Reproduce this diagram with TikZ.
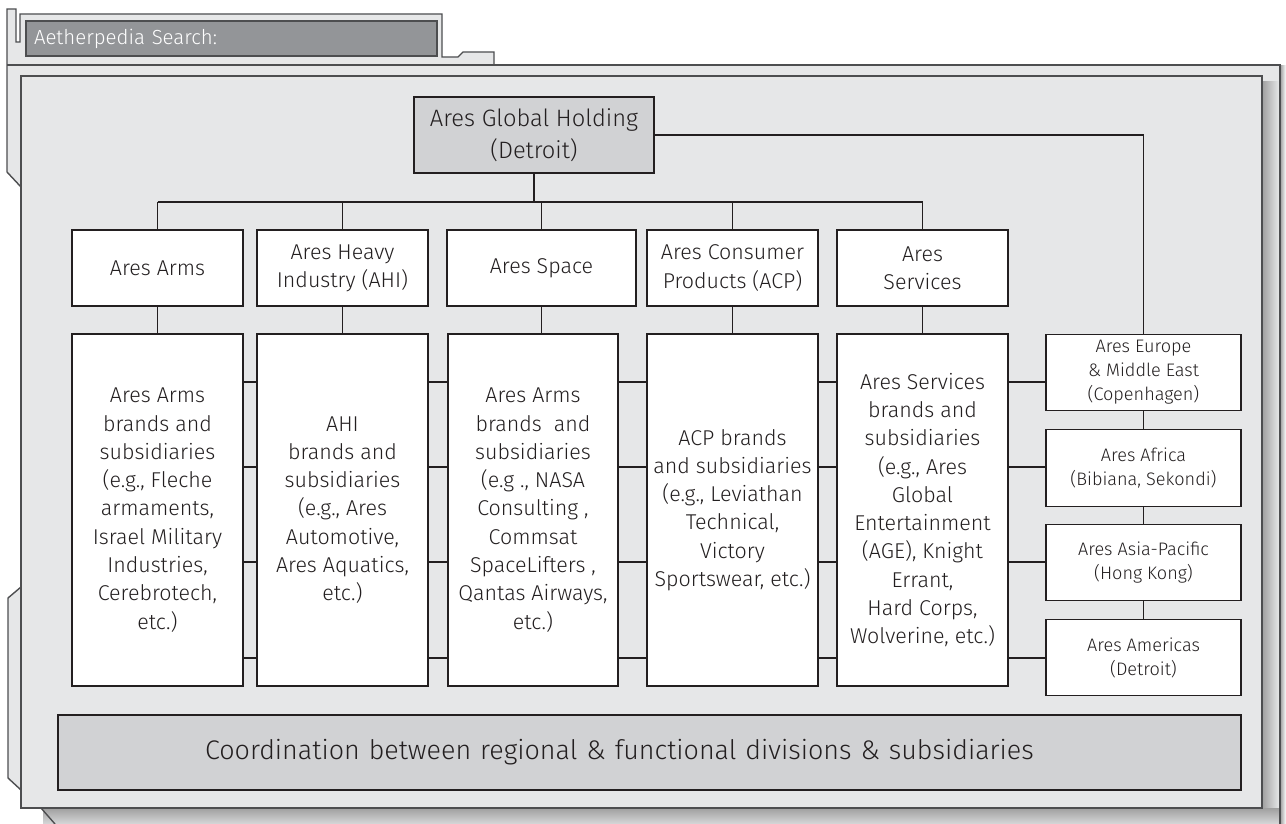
\documentclass[tikz,border=0pt]{standalone}
\usepackage{fontspec}
\setmainfont{Fira Sans}[UprightFont=* Light]
\definecolor{panel}{HTML}{E6E7E8}
\definecolor{boxgray}{HTML}{D1D2D4}
\definecolor{searchgray}{HTML}{939598}
\definecolor{frame}{HTML}{4D4E50}
\definecolor{ink}{HTML}{231F20}
\newcommand\boxfont{\fontsize{12.2}{16.1}\selectfont}
\newcommand\topfont{\fontsize{13.5}{18.5}\selectfont}
\newcommand\regionfont{\fontsize{10.3}{13.6}\selectfont}
\newcommand\barfont{\fontsize{15.3}{18}\selectfont}
\newcommand\searchfont{\fontsize{11.6}{14}\selectfont}

\begin{document}
\begin{tikzpicture}
    [x=0.02cm,y=-0.02cm,inner sep=0pt,line width=0.8pt,
     unit/.style={rectangle,draw=ink,fill=white,text=ink,align=center,
       minimum width=3.42cm,minimum height=1.52cm,font=\boxfont},
     subs/.style={unit,minimum height=7.04cm},
     region/.style={unit,minimum width=3.9cm,minimum height=1.53cm,font=\regionfont},
     hold/.style={unit,fill=boxgray}]
    % background and frame
    \fill [white] (0,0) rectangle (1286,824);
    \useasboundingbox (0,0) rectangle (1286,824);
    \fill [panel] (7,172) -- (7,9) -- (16,9) -- (16,42) -- (20,42) -- (20,14) -- (442,14)
      -- (442,57) -- (458,57) -- (463,52) -- (494,52) -- (494,65) -- (1280,65) -- (1280,824)
      -- (55,824) -- (41,808) -- (21,808) -- (21,187) -- cycle;
    \shade [left color=gray!75,right color=panel] (1262,82) rectangle (1279,812);
    \shade [top color=gray!75,bottom color=panel!85!gray] (43,808) rectangle (1279,824);
    \shade [left color=gray!65,right color=white] (1281,66) rectangle (1286,824);
    \draw [frame] (7,172) -- (7,9) -- (16,9) -- (16,42) -- (20,42) -- (20,14) -- (442,14)
      -- (442,57) -- (458,57) -- (463,52) -- (494,52) -- (494,65);
    \draw [frame] (7,65) -- (1280,65) -- (1280,824);
    \draw [frame] (7,172) -- (21,187);
    \draw [frame] (41,808) -- (55,824);
    \draw [frame,fill=panel] (21,587) -- (8,598) -- (8,778) -- (21,790);
    \draw [frame,fill=panel] (21,76) rectangle (1262,808);
    \node (srch) at (231.5,38.5) [rectangle,draw=frame,fill=searchgray,minimum width=8.22cm,
      minimum height=0.7cm,text width=7.9cm,align=left,text=white,font=\searchfont] {Aetherpedia Search:};

    % chart
    \node (top) at (534,135) [hold,minimum width=4.8cm,font=\topfont] {Ares Global Holding\\(Detroit)};
    \node (arm) at (157.5,268) [unit] {Ares Arms};
    \node (hvy) at (342.5,268) [unit] {Ares Heavy\\Industry (AHI)};
    \node (spc) at (541.5,268) [unit,minimum width=3.78cm] {Ares Space};
    \node (acp) at (732.5,268) [unit] {Ares Consumer\\Products (ACP)};
    \node (srv) at (922.5,268) [unit] {Ares\\Services};
    \node (armS) at (157.5,510) [subs] {Ares Arms\\brands and\\subsidiaries\\(e.g., Fleche\\armaments,\\Israel Military\\Industries,\\Cerebrotech,\\etc.)};
    \node (hvyS) at (342.5,510) [subs] {AHI\\brands and\\subsidiaries\\(e.g., Ares\\Automotive,\\Ares Aquatics,\\etc.)};
    \node (spcS) at (533,510) [subs,minimum width=3.4cm] {Ares Arms\\ brands\ \ and\\subsidiaries\\ (e.g ., NASA\\Consulting ,\\Commsat\\ SpaceLifters ,\\Qantas Airways,\\etc.)};
    \node (acpS) at (732.5,510) [subs] {ACP brands\\and subsidiaries\\(e.g., Leviathan\\Technical,\\Victory\\Sportswear, etc.)};
    \node (srvS) at (922.5,510) [subs] {Ares Services\\brands and\\subsidiaries\\(e.g., Ares\\Global\\Entertainment\\(AGE), Knight\\Errant,\\Hard Corps,\\Wolverine, etc.)};
    \node (eur) at (1143.5,372.5) [region] {Ares Europe\\\& Middle East\\(Copenhagen)};
    \node (afr) at (1143.5,468) [region] {Ares Africa\\(Bibiana, Sekondi)};
    \node (asi) at (1143.5,562.5) [region] {Ares Asia-Pacific\\(Hong Kong)};
    \node (ame) at (1143.5,657.5) [region] {Ares Americas\\(Detroit)};
    \node (coord) at (649.5,752.5) [hold,minimum width=23.66cm,minimum height=1.5cm,font=\barfont,
      text width=23.66cm,align=left]
      {\hspace*{2.94cm}Coordination between regional \& functional divisions \& subsidiaries};
    \coordinate (bus) at (0,202);
    \coordinate (l1) at (0,382);
    \coordinate (l2) at (0,467);
    \coordinate (l3) at (0,562);
    \coordinate (l4) at (0,658);

    \draw [ink] (top.south) to (top.south |- bus);
    \draw [ink] (arm.north |- bus) to (srv.north |- bus);
    \draw [ink] (arm.north |- bus) to (arm.north);
    \draw [ink] (hvy.north |- bus) to (hvy.north);
    \draw [ink] (spc.north |- bus) to (spc.north);
    \draw [ink] (acp.north |- bus) to (acp.north);
    \draw [ink] (srv.north |- bus) to (srv.north);
    \draw [ink] (top.east) -| (eur.north);
    \draw [ink] (arm.south) to (armS.north);
    \draw [ink] (hvy.south) to (hvyS.north);
    \draw [ink] (spc.south) to (spc.south |- spcS.north);
    \draw [ink] (acp.south) to (acpS.north);
    \draw [ink] (srv.south) to (srvS.north);
    \draw [ink] (eur.south) to (afr.north);
    \draw [ink] (afr.south) to (asi.north);
    \draw [ink] (asi.south) to (ame.north);
    \draw [ink] (armS.east |- l1) -- (hvyS.west |- l1) (hvyS.east |- l1) -- (spcS.west |- l1)
      (spcS.east |- l1) -- (acpS.west |- l1) (acpS.east |- l1) -- (srvS.west |- l1) (srvS.east |- l1) -- (eur.west |- l1);
    \draw [ink] (armS.east |- l2) -- (hvyS.west |- l2) (hvyS.east |- l2) -- (spcS.west |- l2)
      (spcS.east |- l2) -- (acpS.west |- l2) (acpS.east |- l2) -- (srvS.west |- l2) (srvS.east |- l2) -- (afr.west |- l2);
    \draw [ink] (armS.east |- l3) -- (hvyS.west |- l3) (hvyS.east |- l3) -- (spcS.west |- l3)
      (spcS.east |- l3) -- (acpS.west |- l3) (acpS.east |- l3) -- (srvS.west |- l3) (srvS.east |- l3) -- (asi.west |- l3);
    \draw [ink] (armS.east |- l4) -- (hvyS.west |- l4) (hvyS.east |- l4) -- (spcS.west |- l4)
      (spcS.east |- l4) -- (acpS.west |- l4) (acpS.east |- l4) -- (srvS.west |- l4) (srvS.east |- l4) -- (ame.west |- l4);
  \end{tikzpicture}
\end{document}
